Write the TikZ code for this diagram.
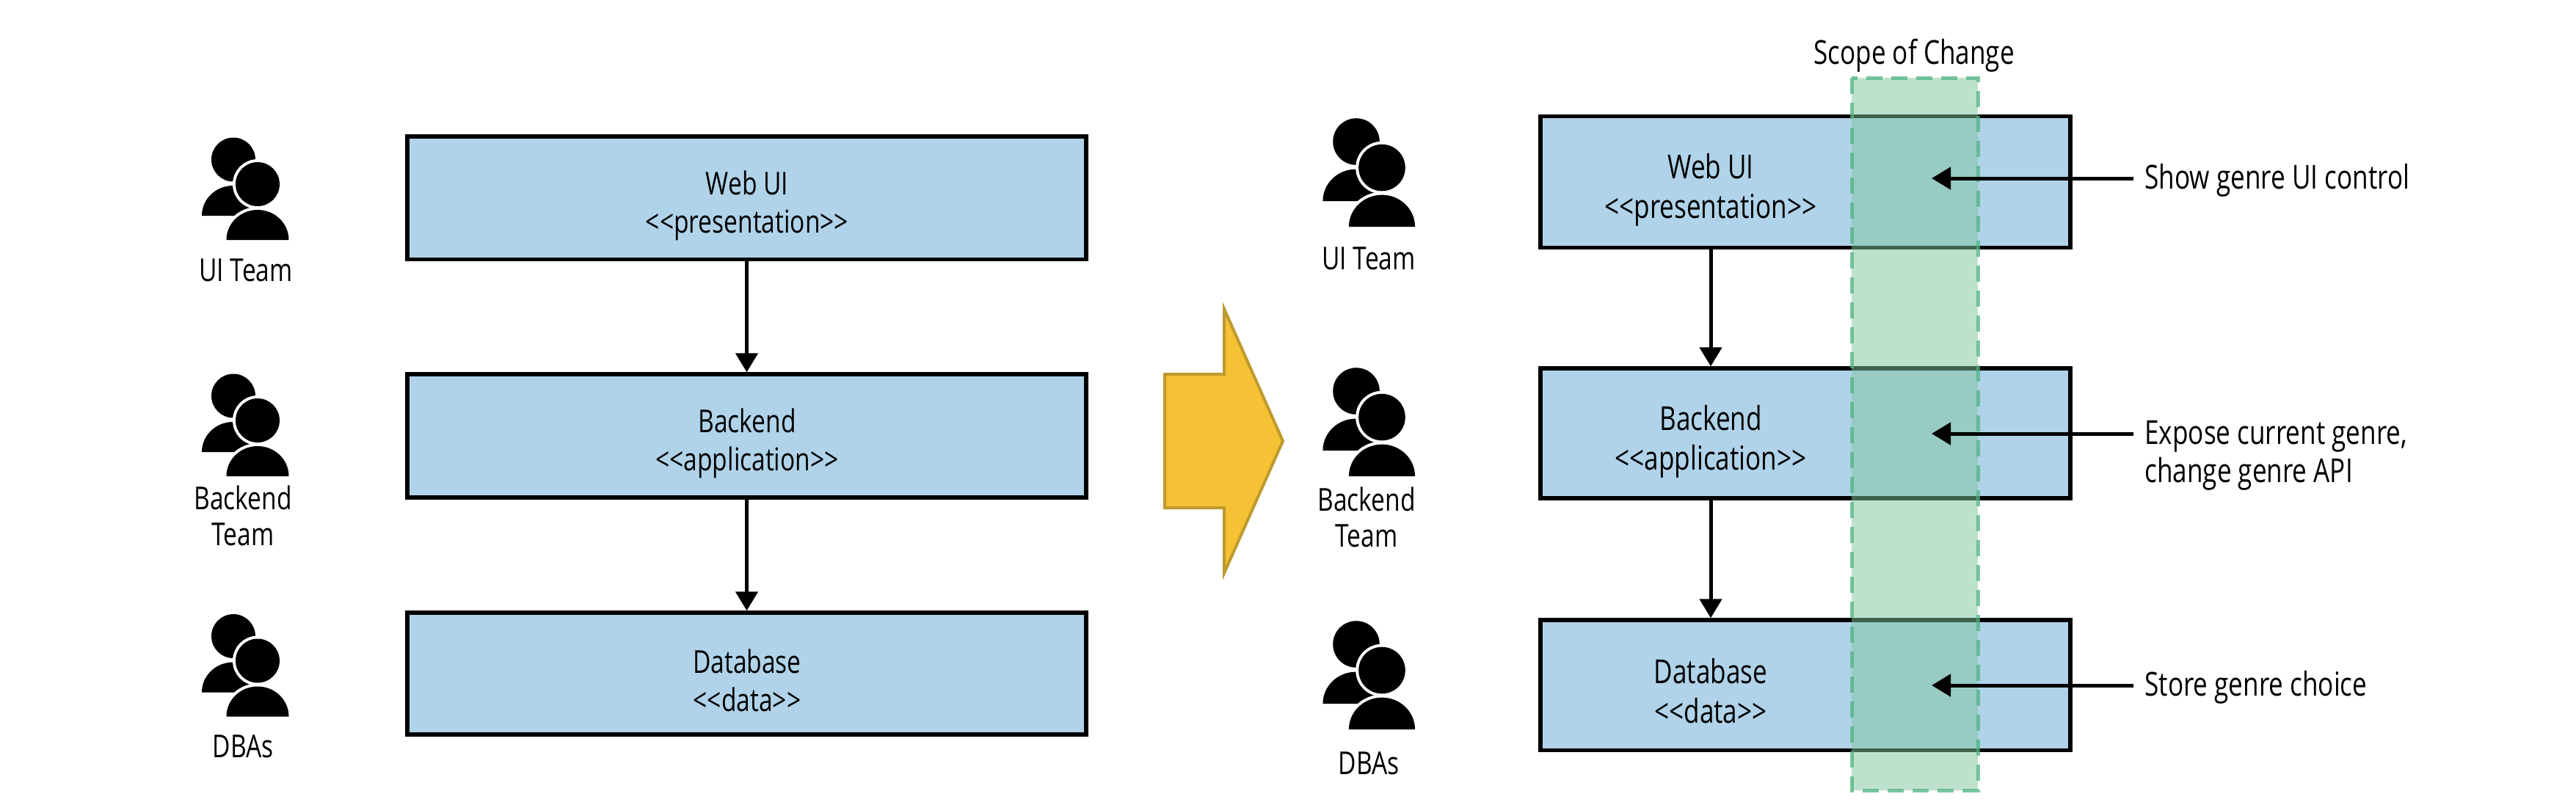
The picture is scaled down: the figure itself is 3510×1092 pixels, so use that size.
\documentclass[tikz,border=0pt]{standalone}
\usepackage{fontspec}
\setmainfont[FakeStretch=0.78]{Open Sans}
\usetikzlibrary{arrows.meta}
\definecolor{boxblue}{HTML}{B0D3E9}
\definecolor{scopegreen}{HTML}{7FC59F}
\definecolor{scopeline}{HTML}{50B482}
\definecolor{bigfill}{HTML}{F5C235}
\definecolor{bigline}{HTML}{BE9A2E}
\tikzset{
  x=0.5pt,y=-0.5pt,
  layerbox/.style={draw=black,fill=boxblue,line width=2.75pt,rectangle,inner sep=0pt,line join=miter},
  boxtext/.style={font=\fontsize{21.5}{26}\selectfont,align=center,inner sep=0pt,text=black},
  rboxtext/.style={font=\fontsize{22.5}{27}\selectfont,align=center,inner sep=0pt,text=black},
  teamtext/.style={font=\fontsize{21.5}{24.5}\selectfont,align=center,inner sep=0pt,text=black},
  notetext/.style={font=\fontsize{22.5}{26}\selectfont,align=left,anchor=west,inner xsep=7.5pt,inner ysep=0pt,text=black},
  flow/.style={line width=2.5pt,-{Triangle[length=13pt,width=15pt]}},
  team/.pic={
    \fill[black] (0,0) circle[radius=30];
    \fill[black] (-43,76.5) arc[start angle=180,end angle=360,x radius=42.5,y radius=41] -- cycle;
    \path[fill=white,draw=white,line width=4pt] (33,33.5) circle[radius=30];
    \path[fill=white,draw=white,line width=4pt] (-9.5,109.5) arc[start angle=180,end angle=360,x radius=42.5,y radius=41] -- cycle;
    \fill[black] (33,33.5) circle[radius=30];
    \fill[black] (-9.5,109.5) arc[start angle=180,end angle=360,x radius=42.5,y radius=41] -- cycle;
  }
}
\begin{document}
\begin{tikzpicture}
\useasboundingbox (0,0) rectangle (3510,1092);
\fill[white] (0,0) rectangle (3510,1092);

% left column
\node[layerbox,minimum width=462.5pt,minimum height=83.75pt] (l1) at (1017.5,269.75) {};
\node[layerbox,minimum width=462.5pt,minimum height=84pt] (l2) at (1017.5,594) {};
\node[layerbox,minimum width=462.5pt,minimum height=83pt] (l3) at (1017.5,918) {};
\node[boxtext] (l1t) at (1018,280) {Web UI\\<{}<presentation>{}>};
\node[boxtext] (l2t) at (1018,604) {Backend\\<{}<application>{}>};
\node[boxtext] (l3t) at (1018,927) {Database\\<{}<data>{}>};
\draw[flow] (l1) -- (l2);
\draw[flow] (l2) -- (l3);

\pic at (318,217.5) {team};
\pic at (318,539.5) {team};
\pic at (318,867) {team};
\node[teamtext] (lu) at (335,368) {UI Team};
\node[teamtext] (lb) at (331,703) {Backend\\Team};
\node[teamtext] (ld) at (331,1017) {DBAs};

% change arrow
\draw[fill=bigfill,draw=bigline,line width=2pt,line join=miter]
  (1587,510) -- (1668,510) -- (1668,421) -- (1748,601) -- (1668,781) -- (1668,692) -- (1587,692) -- cycle;

% right column
\node[layerbox,minimum width=361pt,minimum height=89.5pt] (r1) at (2460,248) {};
\node[layerbox,minimum width=361pt,minimum height=88.5pt] (r2) at (2460,590.5) {};
\node[layerbox,minimum width=361pt,minimum height=88.75pt] (r3) at (2460,933.75) {};

% scope band
\path[fill=scopegreen,fill opacity=0.5,draw=scopeline,draw opacity=0.75,line width=2.5pt,dash pattern=on 11pt off 6pt]
  (2523,106) rectangle (2695,1077);

\node[rboxtext] (r1t) at (2331,259) {Web UI\\<{}<presentation>{}>};
\node[rboxtext] (r2t) at (2331,602) {Backend\\<{}<application>{}>};
\node[rboxtext] (r3t) at (2331,942) {Database\\<{}<data>{}>};
\node[rboxtext] (scope) at (2608,76) {Scope of Change};

\coordinate (rx) at (2331,0);
\draw[flow] (r1.south -| rx) -- (r2.north -| rx);
\draw[flow] (r2.south -| rx) -- (r3.north -| rx);

\pic[scale=1.06] at (1848,193) {team};
\pic[scale=1.06] at (1848,533) {team};
\pic[scale=1.06] at (1848,878) {team};
\node[teamtext] (ru) at (1865,352) {UI Team};
\node[teamtext] (rb) at (1862,705) {Backend\\Team};
\node[teamtext] (rd) at (1865,1040) {DBAs};

% notes
\node[notetext] (n1) at (2907,246) {Show genre UI control};
\node[notetext] (n2) at (2907,621) {Expose current genre,\\change genre API};
\node[notetext] (n3) at (2907,937) {Store genre choice};
\coordinate (t1) at (2632,243);
\coordinate (t2) at (2632,591);
\coordinate (t3) at (2632,934);
\draw[flow] (t1 -| n1.west) -- (t1);
\draw[flow] (t2 -| n2.west) -- (t2);
\draw[flow] (t3 -| n3.west) -- (t3);
\end{tikzpicture}
\end{document}
